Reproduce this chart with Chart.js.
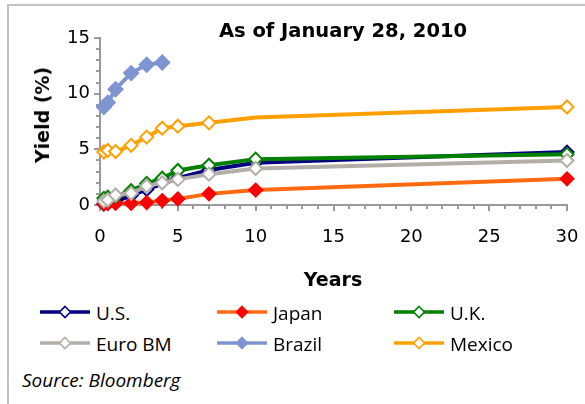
<!DOCTYPE html>
<html>
<head>
<meta charset="utf-8">
<script src="https://cdn.jsdelivr.net/npm/chart.js@4.4.1/dist/chart.umd.min.js"></script>
<style>
  html, body { margin: 0; padding: 0; background: #fff; }
  body { width: 585px; height: 404px; position: relative; overflow: hidden;
         font-family: "Open Sans", "Noto Sans", sans-serif; color: #000; }
  #frame { position: absolute; left: 7px; top: 4px; width: 620px; height: 440px;
           border-top: 2px solid #c4c4c4; border-left: 2px solid #c4c4c4; }
  #plot { position: absolute; left: 0; top: 0; }
  .lbl { position: absolute; white-space: nowrap; }
  .bold { font-family: "DejaVu Sans", sans-serif; font-weight: bold; }
  #title { left: 343px; top: 19px; transform: translateX(-50%); font-size: 19.5px; line-height: 24px; }
  #xTitle { left: 333px; top: 267px; transform: translateX(-50%); font-size: 19px; line-height: 24px; }
  #yTitle { left: 42px; top: 115px; transform: translate(-50%, -50%) rotate(-90deg); font-size: 19px; line-height: 24px; }
  #source { left: 22px; top: 368px; font-size: 19px; line-height: 24px; font-style: italic; }
  .legText { font-size: 19px; line-height: 24px; }
  .legSym { position: absolute; }
</style>
</head>
<body>
<div id="frame"></div>
<canvas id="plot" width="585" height="300"></canvas>
<div class="lbl bold" id="title">As of January 28, 2010</div>
<div class="lbl bold" id="yTitle">Yield (%)</div>
<div class="lbl bold" id="xTitle">Years</div>
<div id="legend"></div>
<div class="lbl" id="source">Source: Bloomberg</div>
<script>
// Government bond yield curves (maturity in years, yield in %)
const yearsUS = [0.25, 0.5, 1, 2, 3, 5, 7, 10, 30];
const yieldsUS = [0.08, 0.17, 0.3, 0.85, 1.4, 2.4, 3.15, 3.8, 4.75];

const yearsJapan = [0.25, 0.5, 1, 2, 3, 4, 5, 7, 10, 30];
const yieldsJapan = [0.12, 0.13, 0.14, 0.16, 0.22, 0.4, 0.55, 1.0, 1.34, 2.35];

const yearsUK = [0.25, 0.5, 1, 2, 3, 4, 5, 7, 10, 30];
const yieldsUK = [0.6, 0.7, 0.8, 1.28, 1.94, 2.4, 3.1, 3.57, 4.12, 4.55];

const yearsEuro = [0.25, 0.5, 1, 2, 3, 4, 5, 7, 10, 30];
const yieldsEuro = [0.35, 0.45, 0.9, 1.05, 1.7, 2.0, 2.3, 2.77, 3.28, 4.0];

const yearsBrazil = [0.25, 0.5, 1, 2, 3, 4];
const yieldsBrazil = [8.8, 9.2, 10.4, 11.85, 12.6, 12.8];

const yearsMexico = [0.25, 0.5, 1, 2, 3, 4, 5, 7, 10, 30];
const yieldsMexico = [4.76, 4.9, 4.8, 5.36, 6.1, 6.9, 7.08, 7.38, 7.85, 8.8];

const seriesNames = ['U.S.', 'Japan', 'U.K.', 'Euro BM', 'Brazil', 'Mexico'];

const xTickLabels = [0, 5, 10, 15, 20, 25, 30];
const yTickLabels = [0, 5, 10, 15];
const minorStep = 1;

const toPoints = (xs, ys) => xs.map((x, i) => ({ x: x, y: ys[i] }));

// line colour, marker colour, marker filled?, marker radius
const looks = [
  { line: '#000080', mark: '#000080', filled: false, r: 6.5 },
  { line: '#ff6a10', mark: '#ff0000', filled: true,  r: 6.5 },
  { line: '#008000', mark: '#008000', filled: false, r: 6.5 },
  { line: '#b4aea8', mark: '#b4aea8', filled: false, r: 6.5 },
  { line: '#7f95d1', mark: '#7f95d1', filled: true,  r: 7 },
  { line: '#ffa000', mark: '#ffa000', filled: false, r: 6.5 }
];

const seriesPoints = [
  toPoints(yearsUS, yieldsUS),
  toPoints(yearsJapan, yieldsJapan),
  toPoints(yearsUK, yieldsUK),
  toPoints(yearsEuro, yieldsEuro),
  toPoints(yearsBrazil, yieldsBrazil),
  toPoints(yearsMexico, yieldsMexico)
];

const datasets = seriesNames.map((name, i) => {
  const lk = looks[i];
  return {
    label: name,
    data: seriesPoints[i],
    borderColor: lk.line,
    borderWidth: 4,
    pointStyle: 'rectRot',
    pointRadius: lk.r,
    pointBorderWidth: 2,
    pointBorderColor: lk.mark,
    pointBackgroundColor: lk.filled ? lk.mark : '#ffffff',
    tension: 0,
    clip: false,
    order: seriesNames.length - i
  };
});
// the Mexican 10-year point is joined by the line but carries no marker
datasets[5].pointRadius = seriesPoints[5].map(p => (p.x === 10 ? 0 : looks[5].r));

// short tick marks outside the axes: every unit, longer at labelled values
const axisTicks = {
  id: 'axisTicks',
  beforeDatasetsDraw(chart) {
    const ctx = chart.ctx;
    const xs = chart.scales.x, ys = chart.scales.y;
    ctx.save();
    ctx.strokeStyle = '#9a9a9a';
    ctx.lineWidth = 2;
    ctx.beginPath();
    for (let v = xs.min; v <= xs.max + 1e-9; v += minorStep) {
      const px = Math.round(xs.getPixelForValue(v));
      const len = xTickLabels.includes(v) ? 6 : 4;
      ctx.moveTo(px, xs.top);
      ctx.lineTo(px, xs.top + len);
    }
    for (let v = ys.min; v <= ys.max + 1e-9; v += minorStep) {
      const py = Math.round(ys.getPixelForValue(v));
      const len = yTickLabels.includes(v) ? 6 : 4;
      ctx.moveTo(ys.right - len, py);
      ctx.lineTo(ys.right, py);
    }
    ctx.stroke();
    ctx.restore();
  }
};

const tickFont = { family: '"DejaVu Sans", sans-serif', size: 18 };

new Chart(document.getElementById('plot'), {
  type: 'line',
  data: { datasets: datasets },
  options: {
    responsive: false,
    animation: false,
    events: [],
    layout: { padding: { top: 38, right: 18, bottom: 10, left: 0 } },
    plugins: {
      legend: { display: false },
      tooltip: { enabled: false },
      title: { display: false }
    },
    scales: {
      x: {
        type: 'linear',
        min: xTickLabels[0],
        max: xTickLabels[xTickLabels.length - 1],
        afterBuildTicks: s => { s.ticks = xTickLabels.map(v => ({ value: v })); },
        afterFit: s => { s.height = 85; },
        grid: { drawOnChartArea: false, drawTicks: true, tickLength: 22, tickColor: 'rgba(0,0,0,0)' },
        border: { color: '#9a9a9a', width: 2 },
        ticks: { padding: 0, color: '#000', font: tickFont, maxRotation: 0, autoSkip: false }
      },
      y: {
        type: 'linear',
        min: yTickLabels[0],
        max: yTickLabels[yTickLabels.length - 1],
        afterBuildTicks: s => { s.ticks = yTickLabels.map(v => ({ value: v })); },
        afterFit: s => { s.width = 100; },
        grid: { drawOnChartArea: false, drawTicks: true, tickLength: 10, tickColor: 'rgba(0,0,0,0)' },
        border: { color: '#9a9a9a', width: 2 },
        ticks: { padding: 0, color: '#000', font: tickFont, autoSkip: false }
      }
    }
  },
  plugins: [axisTicks]
});

// legend: three columns, two rows, each a short line with its marker
const legend = document.getElementById('legend');
const svgNS = 'http://www.w3.org/2000/svg';
seriesNames.forEach((name, i) => {
  const col = i % 3, row = Math.floor(i / 3);
  const lk = looks[i];
  const cy = 313 + row * 31;
  const svg = document.createElementNS(svgNS, 'svg');
  svg.setAttribute('width', '52');
  svg.setAttribute('height', '16');
  svg.setAttribute('class', 'legSym');
  svg.style.left = (39 + col * 177) + 'px';
  svg.style.top = (cy - 1.5 - 8) + 'px';
  const ln = document.createElementNS(svgNS, 'line');
  ln.setAttribute('x1', '1'); ln.setAttribute('x2', '51');
  ln.setAttribute('y1', '8'); ln.setAttribute('y2', '8');
  ln.setAttribute('stroke', lk.line); ln.setAttribute('stroke-width', '3.5');
  svg.appendChild(ln);
  const d = document.createElementNS(svgNS, 'polygon');
  d.setAttribute('points', '26,2.5 31.5,8 26,13.5 20.5,8');
  d.setAttribute('fill', lk.filled ? lk.mark : '#ffffff');
  d.setAttribute('stroke', lk.mark); d.setAttribute('stroke-width', '1.6');
  svg.appendChild(d);
  legend.appendChild(svg);
  const t = document.createElement('div');
  t.className = 'lbl legText';
  t.textContent = name;
  t.style.left = (96 + col * 177) + 'px';
  t.style.top = (cy - 12.5) + 'px';
  legend.appendChild(t);
});
</script>
</body>
</html>
